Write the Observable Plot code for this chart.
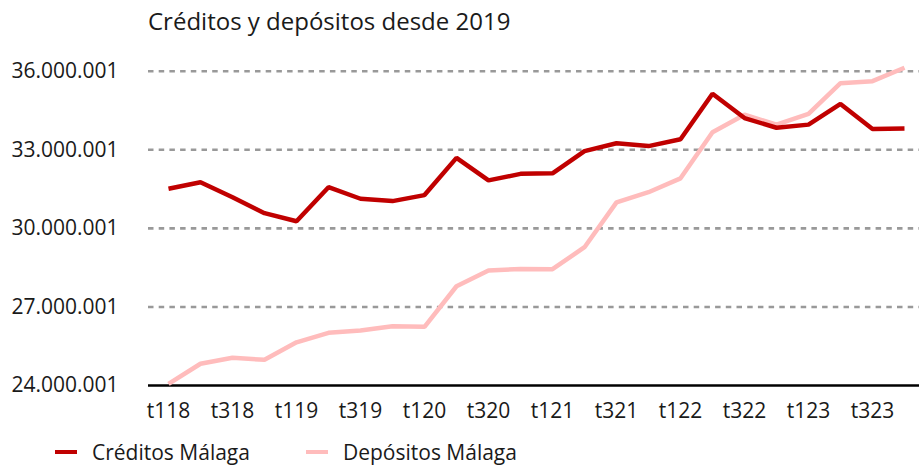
<!DOCTYPE html>
<html>
<head>
<meta charset="utf-8">
<script src="https://cdn.jsdelivr.net/npm/d3@7"></script>
<script src="https://cdn.jsdelivr.net/npm/@observablehq/plot@0.6"></script>
<style>
  html, body { margin: 0; padding: 0; background: #fff; }
  body { width: 919px; height: 466px; overflow: hidden; font-family: "Open Sans", sans-serif; color: #1a1a1a; }
  #title { height: 46px; box-sizing: border-box; padding-left: 148px; padding-top: 5px; font-size: 24px; line-height: 32px; }
  #chart svg { display: block; }
  #legend { position: absolute; top: 438px; left: 0; height: 28px; font-size: 21px; display: flex; align-items: center; }
  .sw { display: inline-block; width: 22px; height: 4px; margin-right: 15px; }
  .item { display: flex; align-items: center; }
</style>
</head>
<body>
<div id="title">Créditos y depósitos desde 2019</div>
<div id="chart"></div>
<div id="legend"></div>
<script>
const quarters = ["t118","t218","t318","t418","t119","t219","t319","t419","t120","t220","t320","t420",
                  "t121","t221","t321","t421","t122","t222","t322","t422","t123","t223","t323","t423"];
const creditos = [31510000,31760000,31190000,30580000,30270000,31570000,31130000,31040000,31270000,32690000,31830000,32080000,
                  32100000,32950000,33250000,33140000,33400000,35140000,34210000,33840000,33960000,34750000,33790000,33810000];
const depositos = [24060000,24830000,25060000,24980000,25650000,26010000,26100000,26260000,26240000,27790000,28390000,28450000,
                   28440000,29280000,30990000,31380000,31910000,33670000,34340000,33960000,34370000,35540000,35620000,36130000];
const xTickLabels = ["t118","t318","t119","t319","t120","t320","t121","t321","t122","t322","t123","t323"];
const yTicks = [24000001,27000001,30000001,33000001,36000001];
const seriesNames = ["Créditos Málaga","Depósitos Málaga"];
const seriesColors = ["#C00000","#FFBCBC"];

const fmt = d3.formatLocale({decimal: ",", thousands: ".", grouping: [3], currency: ["", "€"]}).format(",d");

const rows = [];
quarters.forEach((q, i) => {
  rows.push({q, v: creditos[i], s: seriesNames[0]});
});
quarters.forEach((q, i) => {
  rows.push({q, v: depositos[i], s: seriesNames[1]});
});

const svgTop = 46;
const chart = Plot.plot({
  width: 919,
  height: 392,
  marginTop: 70.7 - svgTop,
  marginBottom: 392 - (385 - svgTop),
  marginLeft: 148,
  marginRight: 0,
  style: {fontFamily: "Open Sans, sans-serif", fontSize: "21px", color: "#1a1a1a", background: "#fff"},
  x: {type: "point", domain: quarters, padding: 0, range: [165.7, 907.3], ticks: xTickLabels, tickSize: 0, tickPadding: 18, label: null},
  y: {domain: [24000001, 36000001], ticks: yTicks, tickFormat: fmt, tickSize: 0, tickPadding: 30, label: null},
  color: {domain: seriesNames, range: seriesColors},
  marks: [
    Plot.ruleY(yTicks.slice(1), {stroke: "#999", strokeWidth: 2.6, strokeDasharray: "5.5,5.2"}),
    Plot.ruleY([yTicks[0]], {stroke: "#000", strokeWidth: 2.5}),
    Plot.lineY(rows.filter(d => d.s === seriesNames[1]), {x: "q", y: "v", stroke: "s", strokeWidth: 4.5, strokeLinejoin: "miter", strokeLinecap: "butt"}),
    Plot.lineY(rows.filter(d => d.s === seriesNames[0]), {x: "q", y: "v", stroke: "s", strokeWidth: 4.5, strokeLinejoin: "miter", strokeLinecap: "butt"})
  ]
});
document.getElementById("chart").appendChild(chart);

const legend = document.getElementById("legend");
seriesNames.forEach((name, i) => {
  const item = document.createElement("div");
  item.className = "item";
  item.style.marginLeft = i === 0 ? "55px" : "56px";
  const sw = document.createElement("span");
  sw.className = "sw";
  sw.style.background = seriesColors[i];
  item.appendChild(sw);
  const t = document.createElement("span");
  t.textContent = name;
  item.appendChild(t);
  legend.appendChild(item);
});
</script>
</body>
</html>
